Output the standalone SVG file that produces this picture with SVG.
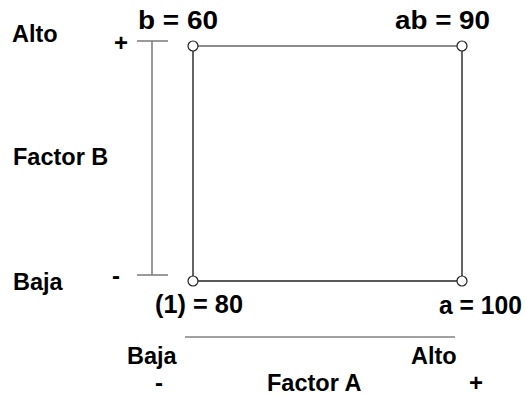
<svg xmlns="http://www.w3.org/2000/svg" width="526" height="396" viewBox="0 0 526 396">
<style>
text{font-family:"Liberation Sans",Arial,sans-serif;font-weight:bold;fill:#000}
.lbl{font-size:23.5px}
.val{font-size:25px}
.sign{font-size:24px}
.axis{stroke:#808080;stroke-width:1.6;fill:none}
.edge{stroke:#222;stroke-width:1.4;fill:none}
.pt{fill:#fff;stroke:#222;stroke-width:1.2}
</style>
<rect width="526" height="396" fill="#fff"/>
<g id="axes">
<line class="axis" x1="152" y1="41" x2="152" y2="275"/>
<line class="axis" x1="137" y1="41" x2="168" y2="41"/>
<line class="axis" x1="137" y1="275" x2="168" y2="275"/>
<line class="axis" x1="185" y1="337" x2="455" y2="337"/>
</g>
<g id="connectors">
<line class="edge" x1="193" y1="46" x2="462" y2="46" style="stroke:#666"/>
<line class="edge" x1="462" y1="46" x2="462" y2="281"/>
<line class="edge" x1="193" y1="281" x2="462" y2="281"/>
<line class="edge" x1="193" y1="46" x2="193" y2="281"/>
</g>
<g id="node-b"><circle class="pt" cx="193" cy="46" r="5"/><text class="val" x="138" y="29" textLength="80" lengthAdjust="spacingAndGlyphs">b = 60</text></g>
<g id="node-ab"><circle class="pt" cx="462" cy="46" r="5"/><text class="val" x="395" y="29" textLength="95" lengthAdjust="spacingAndGlyphs">ab = 90</text></g>
<g id="node-1"><circle class="pt" cx="193" cy="281" r="5"/><text class="val" x="155" y="313" textLength="88" lengthAdjust="spacingAndGlyphs">(1) = 80</text></g>
<g id="node-a"><circle class="pt" cx="462" cy="281" r="5"/><text class="val" x="439" y="314" textLength="83" lengthAdjust="spacingAndGlyphs">a = 100</text></g>
<g id="labels-b">
<text class="lbl" x="12" y="42">Alto</text>
<text class="lbl" x="13" y="165">Factor B</text>
<text class="lbl" x="13" y="290">Baja</text>
<text class="sign" x="114" y="51">+</text>
<text class="sign" x="112" y="284">-</text>
</g>
<g id="labels-a">
<text class="lbl" x="127" y="364">Baja</text>
<text class="lbl" x="411" y="364">Alto</text>
<text class="lbl" x="267" y="391">Factor A</text>
<text class="sign" x="155" y="391">-</text>
<text class="sign" x="469" y="391">+</text>
</g>
</svg>
